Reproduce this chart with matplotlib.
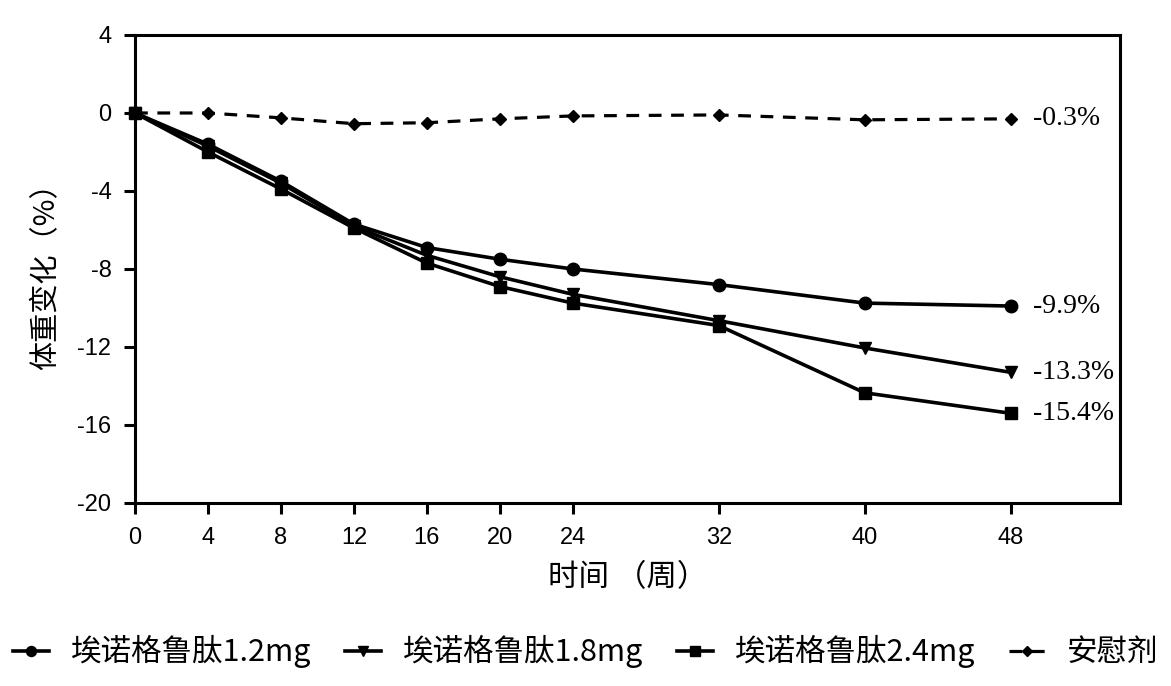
import matplotlib
matplotlib.use('Agg')
import matplotlib.pyplot as plt

plt.rcParams['font.family'] = ['Liberation Sans', 'Noto Sans CJK SC', 'DejaVu Sans']
plt.rcParams['axes.unicode_minus'] = False

# data
weeks = [0, 4, 8, 12, 16, 20, 24, 32, 40, 48]
dose_12 = [0, -1.6, -3.5, -5.7, -6.9, -7.5, -8.0, -8.8, -9.75, -9.9]
dose_18 = [0, -1.7, -3.6, -5.8, -7.3, -8.4, -9.3, -10.65, -12.05, -13.3]
dose_24 = [0, -2.0, -3.9, -5.9, -7.7, -8.9, -9.75, -10.9, -14.35, -15.4]
placebo = [0, 0.0, -0.25, -0.55, -0.5, -0.3, -0.15, -0.1, -0.35, -0.3]

labels = ['埃诺格鲁肽1.2mg', '埃诺格鲁肽1.8mg', '埃诺格鲁肽2.4mg', '安慰剂']
end_labels = ['-9.9%', '-13.3%', '-15.4%', '-0.3%']
y_ticks = [4, 0, -4, -8, -12, -16, -20]

fig = plt.figure(figsize=(11.71, 6.86), dpi=100)
ax = fig.add_axes([0.1153, 0.2668, 0.8412, 0.6822])

lw = 2.6
ax.plot(weeks, dose_12, color='black', lw=lw, marker='o', ms=9, label=labels[0],
        clip_on=False, zorder=3)
ax.plot(weeks, dose_18, color='black', lw=lw, marker='v', ms=9, label=labels[1],
        clip_on=False, zorder=3)
ax.plot(weeks, dose_24, color='black', lw=lw, marker='s', ms=8.5, label=labels[2],
        clip_on=False, zorder=3)
ax.plot(weeks, placebo, color='black', lw=2.3, ls=(0, (4, 3)), marker='D', ms=6,
        label=labels[3], clip_on=False, zorder=3)

# end-of-study values
for series, txt in zip([dose_12, dose_18, dose_24, placebo], end_labels):
    ax.annotate(txt, (weeks[-1], series[-1]), xytext=(16, 0),
                textcoords='offset points', va='center', ha='left',
                fontsize=20, family='Liberation Serif')

ax.set_xlim(0, 54)
ax.set_ylim(-20, 4)
ax.set_xticks(weeks)
ax.set_yticks(y_ticks)
ax.tick_params(direction='out', length=8, width=2.2, labelsize=17, pad=9)
for sp in ax.spines.values():
    sp.set_linewidth(2.2)

ax.set_xlabel('时间 （周）', fontsize=22, family=['Noto Sans CJK SC'], labelpad=10)
ax.set_ylabel('体重变化（%）', fontsize=21, family=['Noto Sans CJK SC'], labelpad=12)

fig.legend(loc='center', bbox_to_anchor=(0.5, 0.05), ncol=4, frameon=False,
           prop={'family': 'Noto Sans CJK SC', 'size': 22},
           handlelength=1.2, handletextpad=0.7, columnspacing=1.1, markerscale=0.8)

fig.savefig('out.png', dpi=100, facecolor='white')
